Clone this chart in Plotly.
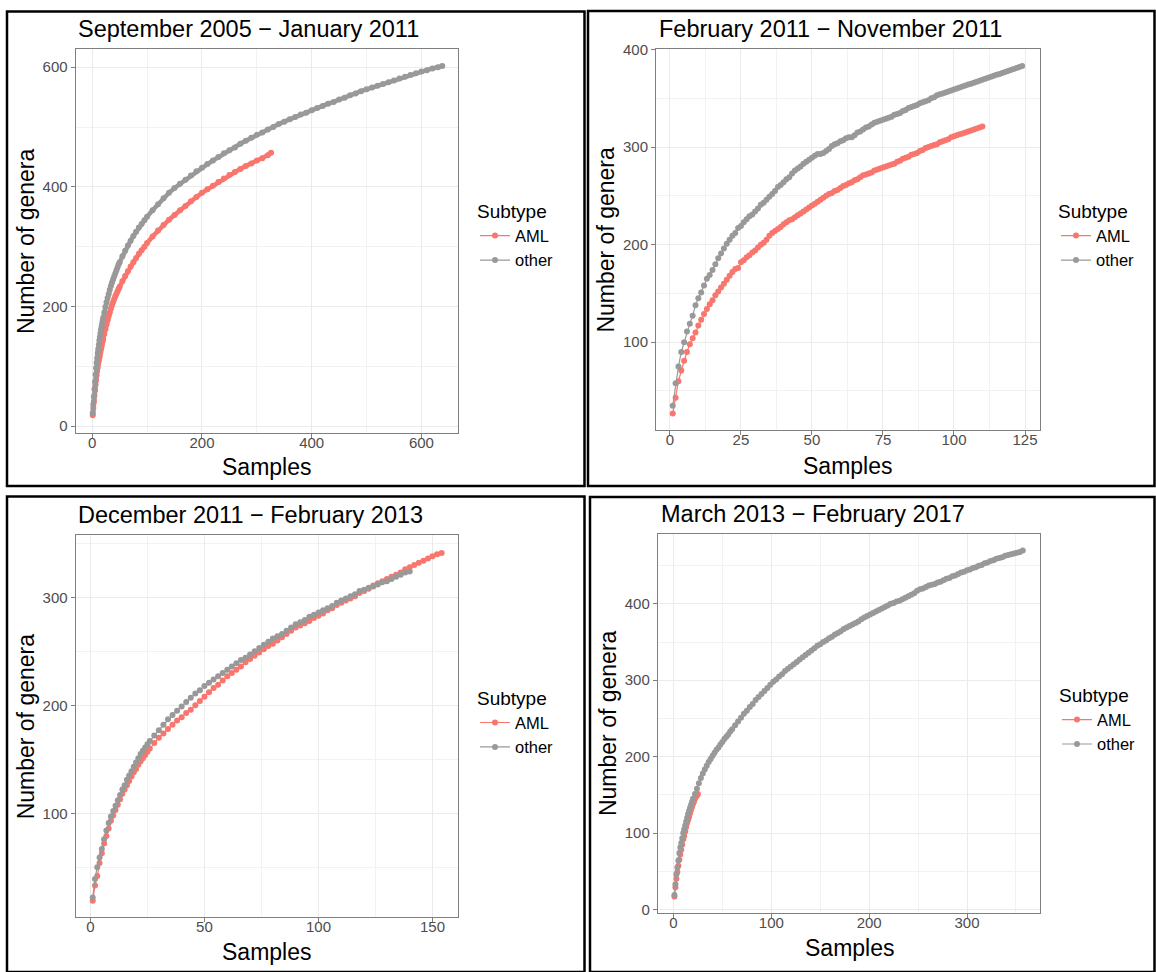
import plotly.graph_objects as go

W, H = 1156, 972
AML_COLOR = "#F8766D"
OTHER_COLOR = "#999999"
FONT = "Liberation Sans, Arial, sans-serif"

panel_titles = ["September 2005 \u2212 January 2011", "February 2011 \u2212 November 2011",
                "December 2011 \u2212 February 2013", "March 2013 \u2212 February 2017"]
subtypes = ["AML", "other"]
x_title = "Samples"
y_title = "Number of genera"
legend_title = "Subtype"

# ---------------- Panel 1: September 2005 - January 2011 ----------------
p1_aml_x = (list(range(1, 21)) + list(range(22, 51, 2)) + list(range(55, 101, 5))
            + list(range(110, 321, 10)) + [326])
p1_aml_y = [18, 30, 41, 51, 60, 69, 77, 85, 92, 98, 104, 109, 114, 119, 124, 129, 133, 138, 142, 146,
            154, 162, 170, 177, 184, 190, 196, 202, 207, 212, 217, 221, 225, 229, 233,
            242, 251, 259, 267, 274, 281, 288, 294, 300, 306,
            317, 327, 336, 345, 353, 361, 368, 376, 383, 390,
            396, 402, 408, 414, 420, 425, 430, 435, 439, 444,
            448, 453,
            457]
p1_oth_x = (list(range(1, 21)) + list(range(22, 51, 2)) + list(range(55, 101, 5))
            + list(range(110, 631, 10)) + [638])
p1_oth_y = [22, 36, 49, 62, 74, 86, 97, 106, 114, 122, 129, 136, 143, 149, 155, 161, 166, 171, 176, 181,
            190, 199, 207, 214, 221, 228, 234, 240, 245, 250, 255, 260, 265, 270, 274,
            284, 293, 302, 310, 318, 325, 332, 338, 344, 350,
            361, 371, 381, 390, 398, 405, 412, 419, 426, 432,
            438, 444, 450, 456, 461, 466, 472, 477, 482, 487,
            491, 496, 500, 505, 509, 513, 517, 521, 524, 528,
            532, 535, 539, 542, 546, 549, 553, 556, 560, 563,
            566, 569, 572, 575, 578, 581, 584, 587, 590, 593,
            595, 598, 600,
            602]

# ---------------- Panel 2: February 2011 - November 2011 ----------------
p2_aml_x = list(range(1, 111))
p2_aml_y = [27, 43, 60, 71, 81, 90, 98, 104, 110, 117,
            123, 129, 134, 139, 143, 148, 152, 156, 160, 164,
            168, 172, 175, 176, 182, 184, 187, 189, 192, 194,
            197, 200, 202, 205, 209, 212, 214, 216, 218, 221,
            223, 225, 226, 228, 230, 232, 234, 236, 238, 240,
            242, 244, 246, 248, 250, 252, 253, 255, 256, 258,
            260, 261, 263, 264, 266, 267, 269, 271, 272, 273,
            274, 276, 277, 278, 279, 280, 281, 282, 283, 285,
            286, 288, 289, 290, 292, 293, 294, 296, 297, 299,
            300, 301, 302, 303, 305, 306, 307, 308, 310, 311,
            312, 313, 314, 315, 316, 317, 318, 319, 320, 321]
p2_oth_x = list(range(1, 125))
p2_oth_y = [35, 58, 75, 90, 100, 111, 119, 127, 138, 145,
            151, 158, 165, 169, 174, 180, 186, 191, 196, 201,
            205, 209, 212, 217, 219, 223, 226, 229, 231, 234,
            237, 241, 243, 246, 249, 252, 255, 259, 261, 264,
            267, 269, 273, 276, 278, 280, 283, 285, 287, 289,
            291, 293, 293, 294, 296, 298, 301, 303, 304, 306,
            307, 309, 310, 310, 312, 315, 316, 318, 320, 321,
            323, 325, 326, 327, 328, 329, 330, 331, 333, 334,
            335, 337, 338, 340, 341, 342, 343, 345, 346, 347,
            348, 350, 351, 353, 354, 355, 356, 357, 358, 359,
            360, 361, 362, 363, 364, 365, 366, 367, 368, 369,
            370, 371, 372, 373, 374, 375, 376, 377, 378, 379,
            380, 381, 382, 383]

# ---------------- Panel 3: December 2011 - February 2013 ----------------
p3_aml_x = list(range(1, 26)) + list(range(26, 155, 2))
p3_aml_y = [19, 33, 42, 54, 63, 72, 79, 86, 93, 98, 103, 108, 113, 118, 122, 126, 130, 134, 138, 141,
            145, 148, 151, 154, 157,
            160, 165, 170, 174, 178, 182, 186, 189, 193, 196,
            200, 204, 208, 212, 216, 219, 223, 227, 230, 233,
            236, 240, 243, 246, 249, 252, 255, 257, 260, 263,
            266, 269, 272, 274, 276, 278, 281, 283, 285, 288,
            290, 293, 295, 297, 299, 301, 304, 306, 308, 311,
            313, 315, 317, 319, 321, 323, 326, 328, 330, 332,
            334, 336, 338, 340, 341]
p3_oth_x = list(range(1, 26)) + list(range(26, 141, 2))
p3_oth_y = [22, 39, 50, 59, 67, 76, 84, 91, 97, 102, 107, 112, 117, 122, 126, 131, 135, 139, 143, 147,
            151, 155, 158, 161, 164,
            167, 172, 177, 182, 187, 191, 195, 199, 203, 207,
            211, 214, 218, 221, 224, 227, 230, 233, 236, 239,
            242, 244, 247, 250, 253, 256, 259, 262, 264, 266,
            269, 272, 275, 277, 279, 282, 284, 286, 288, 290,
            292, 295, 297, 299, 301, 303, 306, 307, 309, 310,
            312, 314, 315, 317, 319, 321, 323, 324]

# ---------------- Panel 4: March 2013 - February 2017 ----------------
p4_aml_x = list(range(1, 26))
p4_aml_y = [17, 29, 40, 49, 57, 65, 72, 78, 85, 92, 96, 102, 108, 113, 117, 121, 126, 130, 134, 138,
            141, 145, 147, 149, 151]
p4_oth_x = list(range(1, 21)) + list(range(22, 61, 2)) + list(range(63, 358, 3))
p4_oth_y = [19, 33, 46, 55, 64, 74, 81, 87, 93, 100, 105, 110, 115, 120, 125, 129, 133, 137, 141, 145,
            151, 158, 165, 172, 178, 183, 188, 193, 197, 201, 205, 209, 212, 216, 219, 223, 226, 229, 233, 236,
            241, 246, 251, 256, 260, 265, 269, 274, 278, 282,
            286, 290, 294, 298, 301, 305, 308, 312, 315, 318,
            321, 324, 327, 330, 333, 336, 339, 342, 345, 347,
            350, 352, 355, 357, 360, 362, 364, 367, 369, 371,
            373, 375, 377, 380, 382, 384, 386, 388, 390, 392,
            394, 396, 398, 400, 401, 403, 404, 406, 408, 410,
            412, 414, 417, 419, 420, 422, 424, 425, 426, 428,
            429, 431, 433, 434, 436, 437, 439, 441, 442, 444,
            445, 447, 448, 450, 451, 453, 454, 456, 457, 459,
            460, 461, 463, 464, 465, 466, 467, 468, 470]

# tick values per panel
p1_xticks, p1_xminor = [0, 200, 400, 600], [100, 300, 500]
p1_yticks, p1_yminor = [0, 200, 400, 600], [100, 300, 500]
p2_xticks, p2_xminor = [0, 25, 50, 75, 100, 125], [12.5, 37.5, 62.5, 87.5, 112.5]
p2_yticks, p2_yminor = [100, 200, 300, 400], [50, 150, 250, 350]
p3_xticks, p3_xminor = [0, 50, 100, 150], [25, 75, 125]
p3_yticks, p3_yminor = [100, 200, 300], [50, 150, 250, 350]
p4_xticks, p4_xminor = [0, 100, 200, 300], [50, 150, 250, 350]
p4_yticks, p4_yminor = [0, 100, 200, 300, 400], [50, 150, 250, 350, 450]

# ---------------- layout geometry (pixels) ----------------
panels = [
    dict(aml=(p1_aml_x, p1_aml_y), oth=(p1_oth_x, p1_oth_y), dense=True,
         px=(75.6, 458.3), py=(42, 430), xr=[-30.3, 667.2], yr=[-11.1, 629.7],
         xt=(p1_xticks, p1_xminor), yt=(p1_yticks, p1_yminor),
         title_xy=(75.6, 21), xtitle_y=465, ytitle_x=26, leg=(475, 188)),
    dict(aml=(p2_aml_x, p2_aml_y), oth=(p2_oth_x, p2_oth_y), dense=False,
         px=(656, 1039.5), py=(41.7, 427.3), xr=[-4.9, 130.1], yr=[10.0, 400.3],
         xt=(p2_xticks, p2_xminor), yt=(p2_yticks, p2_yminor),
         title_xy=(656.5, 21), xtitle_y=463.5, ytitle_x=606, leg=(1056, 188)),
    dict(aml=(p3_aml_x, p3_aml_y), oth=(p3_oth_x, p3_oth_y), dense=False,
         px=(75.6, 458.3), py=(534, 920.7), xr=[-6.5, 161.3], yr=[3.6, 357.4],
         xt=(p3_xticks, p3_xminor), yt=(p3_yticks, p3_yminor),
         title_xy=(76.4, 513.5), xtitle_y=956, ytitle_x=26, leg=(475, 681)),
    dict(aml=(p4_aml_x, p4_aml_y), oth=(p4_oth_x, p4_oth_y), dense=False,
         px=(657.8, 1040.2), py=(532.3, 916.7), xr=[-16, 374.8], yr=[-5.2, 491.8],
         xt=(p4_xticks, p4_xminor), yt=(p4_yticks, p4_yminor),
         title_xy=(658.6, 512), xtitle_y=952, ytitle_x=607.5, leg=(1057, 678)),
]

frames = [(7, 3.5, 584.5, 484), (588, 3, 1154.5, 484), (7, 494.5, 584.5, 976), (590, 495, 1154.5, 976)]

fig = go.Figure()
annotations = []
shapes = []
layout_axes = {}

for i, p in enumerate(panels):
    n = i + 1
    xa = "x" if n == 1 else f"x{n}"
    ya = "y" if n == 1 else f"y{n}"
    leg = "legend" if n == 1 else f"legend{n}"
    for name, (xs, ys), col in [("AML", p["aml"], AML_COLOR), ("other", p["oth"], OTHER_COLOR)]:
        lw = 4.5 if p["dense"] else 1.2
        fig.add_trace(go.Scatter(
            x=xs, y=ys, name=name, mode="lines+markers",
            line=dict(color=col, width=lw), marker=dict(color=col, size=6),
            xaxis=xa, yaxis=ya, legend=leg, showlegend=not p["dense"],
            hoverinfo="x+y+name"))
    if p["dense"]:
        for name, col in [("AML", AML_COLOR), ("other", OTHER_COLOR)]:
            fig.add_trace(go.Scatter(
                x=[None], y=[None], name=name, mode="lines+markers",
                line=dict(color=col, width=1.2), marker=dict(color=col, size=6),
                xaxis=xa, yaxis=ya, legend=leg, showlegend=True))

    x0, x1 = p["px"]
    y0, y1 = p["py"]
    common = dict(showline=True, mirror=True, linecolor="#7F7F7F", linewidth=1,
                  zeroline=False, ticks="outside", ticklen=4, tickcolor="#7F7F7F", tickwidth=1,
                  showgrid=True, gridcolor="#EBEBEB", gridwidth=1.1,
                  tickfont=dict(family=FONT, size=15, color="#4D4D4D"),
                  tickmode="array")
    xt, xm = p["xt"]
    yt, ym = p["yt"]
    layout_axes["xaxis" if n == 1 else f"xaxis{n}"] = dict(
        common, domain=[x0 / W, x1 / W], range=p["xr"], anchor=ya,
        tickvals=xt, ticktext=[str(v) for v in xt], ticklabelstandoff=-8,
        minor=dict(tickmode="array", tickvals=xm, showgrid=True, gridcolor="#F2F2F2", gridwidth=0.8, ticks=""))
    layout_axes["yaxis" if n == 1 else f"yaxis{n}"] = dict(
        common, domain=[1 - y1 / H, 1 - y0 / H], range=p["yr"], anchor=xa,
        tickvals=yt, ticktext=[str(v) for v in yt],
        minor=dict(tickmode="array", tickvals=ym, showgrid=True, gridcolor="#F2F2F2", gridwidth=0.8, ticks=""))

    # panel title
    tx, ty = p["title_xy"]
    annotations.append(dict(text=panel_titles[i], x=tx / W, y=1 - ty / H, xref="paper", yref="paper",
                            xanchor="left", yanchor="middle", showarrow=False,
                            font=dict(family=FONT, size=23.5, color="black")))
    # axis titles
    annotations.append(dict(text=x_title, x=(x0 + x1) / 2 / W, y=1 - p["xtitle_y"] / H,
                            xref="paper", yref="paper", xanchor="center", yanchor="middle",
                            showarrow=False, font=dict(family=FONT, size=23, color="black")))
    annotations.append(dict(text=y_title, x=p["ytitle_x"] / W, y=1 - (y0 + y1) / 2 / H,
                            xref="paper", yref="paper", xanchor="center", yanchor="middle",
                            textangle=-90, showarrow=False,
                            font=dict(family=FONT, size=23, color="black")))
    # legend
    lx, ly = p["leg"]
    layout_axes[leg] = dict(x=lx / W, y=1 - ly / H, xanchor="left", yanchor="top",
                            title=dict(text=legend_title, font=dict(family=FONT, size=19, color="black")),
                            font=dict(family=FONT, size=16.5, color="black"),
                            bgcolor="rgba(0,0,0,0)", borderwidth=0, itemwidth=30,
                            tracegroupgap=0)

for (fx0, fy0, fx1, fy1) in frames:
    shapes.append(dict(type="rect", xref="paper", yref="paper",
                       x0=fx0 / W, x1=fx1 / W, y0=1 - fy1 / H, y1=1 - fy0 / H,
                       line=dict(color="black", width=2.5), fillcolor="rgba(0,0,0,0)", layer="above"))

fig.update_layout(
    width=W, height=H, autosize=False,
    margin=dict(l=0, r=0, t=0, b=0),
    paper_bgcolor="white", plot_bgcolor="white",
    font=dict(family=FONT, color="black"),
    annotations=annotations, shapes=shapes,
    **layout_axes,
)

fig.write_html("out.html")
